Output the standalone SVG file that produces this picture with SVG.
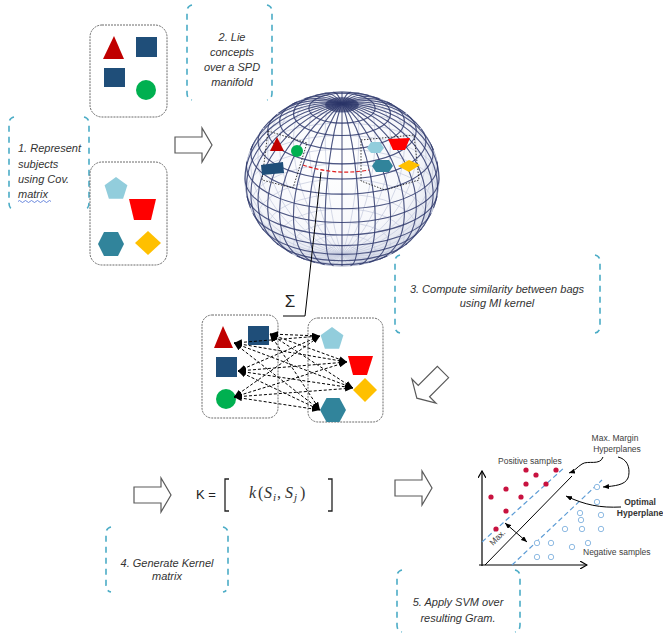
<svg xmlns="http://www.w3.org/2000/svg" width="663" height="637" viewBox="0 0 663 637">
<defs>
<style>
.t{font-family:"Liberation Sans",Arial,sans-serif;font-style:italic;font-size:11px;fill:#333}
.c{text-anchor:middle}
.br{fill:none;stroke:#4bacc6;stroke-width:1.6;stroke-dasharray:6 5}
.box{fill:#fff;stroke:#6b6b6b;stroke-width:1;stroke-dasharray:2 1}
.blk{fill:#fff;stroke:#5a5a5a;stroke-width:1.2}
.bk{fill:none;stroke:#c3c8dc;stroke-width:0.7}
.fr{fill:none;stroke:#2c3669;stroke-width:1.1;stroke-opacity:0.8}
.bk *,.fr *{vector-effect:non-scaling-stroke}
.dl{stroke:#000;stroke-width:1;stroke-dasharray:3 2;fill:none}
.lab{font-family:"Liberation Sans",Arial,sans-serif;font-size:8.5px;fill:#404040}
.bold{font-weight:bold;fill:#333}
.pos{fill:#c8123f}
.neg{fill:#fff;stroke:#8fbbe3;stroke-width:1}
.red{fill:#c00000}.blu{fill:#1f4e79}.grn{fill:#00b050}.lbl{fill:#92cddc}.rd2{fill:#ff0000}.tea{fill:#31849b}.yel{fill:#ffc000}
</style>
<path id="barrow" d="M0,-8 H27 V-17 L37,0 L27,17 V8 H0 Z"/>
<marker id="ah" viewBox="0 0 8 6" refX="8" refY="3" markerWidth="8" markerHeight="6" markerUnits="userSpaceOnUse" orient="auto-start-reverse"><path d="M0,0 L8,3 L0,6 Z" fill="#000"/></marker>
<marker id="sm" viewBox="0 0 6 5" refX="6" refY="2.5" markerWidth="6" markerHeight="5" markerUnits="userSpaceOnUse" orient="auto-start-reverse"><path d="M0,0 L6,2.5 L0,5 Z" fill="#000"/></marker>
<marker id="ax" viewBox="0 0 8 8" refX="7" refY="4" markerWidth="8" markerHeight="8" markerUnits="userSpaceOnUse" orient="auto"><path d="M0,0 L7,4 L0,8" fill="none" stroke="#000" stroke-width="1.2"/></marker>
<radialGradient id="sg" cx="0.45" cy="0.4" r="0.62">
<stop offset="0" stop-color="#ffffff"/><stop offset="0.7" stop-color="#f6f7fb"/><stop offset="1" stop-color="#d9deea"/>
</radialGradient>
</defs>
<rect width="663" height="637" fill="#fff"/>

<!-- Step text boxes -->
<g id="step1">
<path class="br" d="M14,117 Q9,118 9,124 V203 Q9,209 14,210"/>
<path class="br" d="M84,117 Q89,118 89,124 V203 Q89,209 84,210"/>
<text class="t" x="18" y="152">1. Represent</text>
<text class="t" x="18" y="168">subjects</text>
<text class="t" x="18" y="183">using Cov.</text>
<text class="t" x="18" y="198">matrix</text>
<path d="M18,201.5 q1.5,-2 3,0 t3,0 t3,0 t3,0 t3,0 t3,0 t3,0 t3,0 t3,0 t3,0 t3,0" fill="none" stroke="#4a6fd6" stroke-width="0.8"/>
</g>
<g id="step2">
<path class="br" d="M192,5 Q187,6 187,12 V93 Q187,99 192,100"/>
<path class="br" d="M267,5 Q272,6 272,12 V93 Q272,99 267,100"/>
<text class="t c" x="232" y="41">2. Lie</text>
<text class="t c" x="232" y="56">concepts</text>
<text class="t c" x="232" y="71">over a SPD</text>
<text class="t c" x="232" y="86">manifold</text>
</g>
<g id="step3">
<path class="br" d="M400,255 Q395,256 395,262 V326 Q395,332 400,333"/>
<path class="br" d="M595,255 Q600,256 600,262 V326 Q600,332 595,333"/>
<text class="t c" x="497" y="293">3. Compute similarity between bags</text>
<text class="t c" x="497" y="307">using MI kernel</text>
</g>
<g id="step4">
<path class="br" d="M111,527 Q106,528 106,534 V585 Q106,591 111,592"/>
<path class="br" d="M223,527 Q228,528 228,534 V585 Q228,591 223,592"/>
<text class="t c" x="167" y="567">4. Generate Kernel</text>
<text class="t c" x="167" y="580">matrix</text>
</g>
<g id="step5">
<path class="br" d="M402,570 Q397,571 397,577 V625 Q397,631 402,632"/>
<path class="br" d="M515,570 Q520,571 520,577 V625 Q520,631 515,632"/>
<text class="t c" x="458" y="606">5. Apply SVM over</text>
<text class="t c" x="458" y="622">resulting Gram.</text>
</g>

<!-- Concept boxes -->
<g id="bag-top">
<rect class="box" x="90" y="25" width="77" height="92" rx="12"/>
<polygon class="red" points="114,36 124,59 103,59"/>
<rect class="blu" x="136" y="37" width="21" height="20"/>
<rect class="blu" x="104" y="68" width="21" height="19"/>
<circle class="grn" cx="146" cy="90" r="10"/>
</g>
<g id="bag-bottom">
<rect class="box" x="90" y="162" width="77" height="103" rx="12"/>
<polygon class="lbl" points="116,177 127.4,185.3 123.1,198.7 108.9,198.7 104.6,185.3"/>
<polygon class="rd2" points="129,199 156,199 151,220 134,220"/>
<polygon class="tea" points="98,244 104,232 118,232 124,244 118,256 104,256"/>
<polygon class="yel" points="135,243 148,231 161,243 148,255"/>
</g>

<!-- Block arrows -->
<g id="arrows">
<use href="#barrow" class="blk" transform="translate(175,145)"/>
<use href="#barrow" class="blk" transform="translate(443,372) rotate(135)"/>
<use href="#barrow" class="blk" transform="translate(134,495)"/>
<use href="#barrow" class="blk" transform="translate(395,488)"/>
</g>

<!-- Sphere -->
<g id="sphere">
<ellipse cx="342" cy="179" rx="97" ry="87" fill="url(#sg)" stroke="#a9aec0" stroke-width="1"/>
<g transform="translate(342,179) scale(97,87)">
<g class="bk">
<ellipse cx="0" cy="-0.8529" rx="0.1736" ry="0.0868"/>
<ellipse cx="0" cy="-0.8138" rx="0.342" ry="0.171"/>
<ellipse cx="0" cy="-0.75" rx="0.5" ry="0.25"/>
<ellipse cx="0" cy="-0.6634" rx="0.6428" ry="0.3214"/>
<ellipse cx="0" cy="-0.5567" rx="0.766" ry="0.383"/>
<ellipse cx="0" cy="-0.433" rx="0.866" ry="0.433"/>
<ellipse cx="0" cy="-0.2962" rx="0.9397" ry="0.4698"/>
<ellipse cx="0" cy="-0.1504" rx="0.9848" ry="0.4924"/>
<ellipse cx="0" cy="0" rx="1" ry="0.5"/>
<ellipse cx="0" cy="0.1504" rx="0.9848" ry="0.4924"/>
<ellipse cx="0" cy="0.2962" rx="0.9397" ry="0.4698"/>
<ellipse cx="0" cy="0.433" rx="0.866" ry="0.433"/>
<ellipse cx="0" cy="0.5567" rx="0.766" ry="0.383"/>
<ellipse cx="0" cy="0.6634" rx="0.6428" ry="0.3214"/>
<ellipse cx="0" cy="0.75" rx="0.5" ry="0.25"/>
<ellipse cx="0" cy="0.8138" rx="0.342" ry="0.171"/>
<ellipse cx="0" cy="0.8529" rx="0.1736" ry="0.0868"/>
<ellipse rx="0.1504" ry="1" transform="rotate(-5.04)"/>
<ellipse rx="0.2962" ry="1" transform="rotate(-10.31)"/>
<ellipse rx="0.433" ry="1" transform="rotate(-16.1)"/>
<ellipse rx="0.5567" ry="1" transform="rotate(-22.76)"/>
<ellipse rx="0.6634" ry="1" transform="rotate(-30.79)"/>
<ellipse rx="0.75" ry="1" transform="rotate(-40.89)"/>
<ellipse rx="0.8138" ry="1" transform="rotate(-53.94)"/>
<ellipse rx="0.8529" ry="1" transform="rotate(-70.58)"/>
<ellipse rx="0.866" ry="1" transform="rotate(-90)"/>
<ellipse rx="0.8529" ry="1" transform="rotate(-109.42)"/>
<ellipse rx="0.8138" ry="1" transform="rotate(-126.06)"/>
<ellipse rx="0.75" ry="1" transform="rotate(-139.11)"/>
<ellipse rx="0.6634" ry="1" transform="rotate(-149.21)"/>
<ellipse rx="0.5567" ry="1" transform="rotate(-157.24)"/>
<ellipse rx="0.433" ry="1" transform="rotate(-163.9)"/>
<ellipse rx="0.2962" ry="1" transform="rotate(-169.69)"/>
<ellipse rx="0.1504" ry="1" transform="rotate(-174.96)"/>
</g>
<ellipse cx="0" cy="-0.8529" rx="0.1736" ry="0.0868" fill="#2c3669" fill-opacity="0.7"/>
<g class="fr">
<ellipse cx="0" cy="-0.8138" rx="0.342" ry="0.171"/>
<ellipse cx="0" cy="-0.75" rx="0.5" ry="0.25"/>
<path d="M-0.4663,-0.8845 A0.6428,0.3214 0 1 0 0.4663,-0.8845"/>
<path d="M-0.6701,-0.7423 A0.766,0.383 0 1 0 0.6701,-0.7423"/>
<path d="M-0.8165,-0.5774 A0.866,0.433 0 1 0 0.8165,-0.5774"/>
<path d="M-0.9187,-0.395 A0.9397,0.4698 0 1 0 0.9187,-0.395"/>
<path d="M-0.9797,-0.2005 A0.9848,0.4924 0 1 0 0.9797,-0.2005"/>
<path d="M-1,0 A1,0.5 0 0 0 1,0"/>
<path d="M-0.9797,0.2005 A0.9848,0.4924 0 0 0 0.9797,0.2005"/>
<path d="M-0.9187,0.395 A0.9397,0.4698 0 0 0 0.9187,0.395"/>
<path d="M-0.8165,0.5774 A0.866,0.433 0 0 0 0.8165,0.5774"/>
<path d="M-0.6701,0.7423 A0.766,0.383 0 0 0 0.6701,0.7423"/>
<path d="M-0.4663,0.8845 A0.6428,0.3214 0 0 0 0.4663,0.8845"/>
<path d="M0,-1 V1"/>
<path d="M0,-1 A0.1504,1 0 0 1 0,1" transform="rotate(-5.04)"/>
<path d="M0,-1 A0.2962,1 0 0 1 0,1" transform="rotate(-10.31)"/>
<path d="M0,-1 A0.433,1 0 0 1 0,1" transform="rotate(-16.1)"/>
<path d="M0,-1 A0.5567,1 0 0 1 0,1" transform="rotate(-22.76)"/>
<path d="M0,-1 A0.6634,1 0 0 1 0,1" transform="rotate(-30.79)"/>
<path d="M0,-1 A0.75,1 0 0 1 0,1" transform="rotate(-40.89)"/>
<path d="M0,-1 A0.8138,1 0 0 1 0,1" transform="rotate(-53.94)"/>
<path d="M0,-1 A0.8529,1 0 0 1 0,1" transform="rotate(-70.58)"/>
<path d="M0,-1 A0.866,1 0 0 1 0,1" transform="rotate(-90)"/>
<path d="M0,-1 A0.8529,1 0 0 1 0,1" transform="rotate(-109.42)"/>
<path d="M0,-1 A0.8138,1 0 0 1 0,1" transform="rotate(-126.06)"/>
<path d="M0,-1 A0.75,1 0 0 1 0,1" transform="rotate(-139.11)"/>
<path d="M0,-1 A0.6634,1 0 0 1 0,1" transform="rotate(-149.21)"/>
<path d="M0,-1 A0.5567,1 0 0 1 0,1" transform="rotate(-157.24)"/>
<path d="M0,-1 A0.433,1 0 0 1 0,1" transform="rotate(-163.9)"/>
<path d="M0,-1 A0.2962,1 0 0 1 0,1" transform="rotate(-169.69)"/>
<path d="M0,-1 A0.1504,1 0 0 1 0,1" transform="rotate(-174.96)"/>
</g>
</g>
<polygon points="268,131 307,143 293,188 262,180" fill="none" stroke="#222" stroke-width="0.9" stroke-dasharray="1.5 1.5"/>
<polygon points="361,140 414,135 419,180 385,190 361,181" fill="none" stroke="#222" stroke-width="0.9" stroke-dasharray="1.5 1.5"/>
<polygon class="red" points="277,137 284,151 270,151"/>
<circle class="grn" cx="297" cy="151" r="6"/>
<polygon class="blu" points="261,165 283,162 284,173 262,175"/>
<polygon class="lbl" points="367,148 371,142 380,142 384,148 380,153 371,153"/>
<polygon class="rd2" points="388,139 410,138 405,150 393,150"/>
<polygon class="tea" points="372,166 376,160 389,160 393,166 389,172 376,172"/>
<polygon class="yel" points="398,166 409,160 420,165 409,172"/>
<path d="M303,165 Q335,176 369,170" fill="none" stroke="#e02020" stroke-width="1.2" stroke-dasharray="4 2"/>
</g>

<!-- Sum pointer -->
<g id="sum">
<path d="M321,172 L305,316 H283" fill="none" stroke="#000" stroke-width="1"/>
<text x="290" y="307" font-family="Liberation Sans, Arial, sans-serif" font-size="17" fill="#222" text-anchor="middle">Σ</text>
</g>

<!-- Bags comparison -->
<g id="bag-left">
<rect class="box" x="202" y="315" width="76" height="103" rx="10"/>
<polygon class="red" points="223,326 233,348 214,348"/>
<rect class="blu" x="248" y="326" width="21" height="19"/>
<rect class="blu" x="216" y="357" width="21" height="20"/>
<circle class="grn" cx="226" cy="399" r="10"/>
</g>
<g id="bag-right">
<rect class="box" x="308" y="318" width="75" height="104" rx="10"/>
<polygon class="lbl" points="332,327 343.4,335.3 339.1,348.7 324.9,348.7 320.6,335.3"/>
<polygon class="rd2" points="348,356 373,356 367,375 353,375"/>
<polygon class="yel" points="353,390 365,378 377,390 365,402"/>
<polygon class="tea" points="320,410 326.5,398 339.5,398 346,410 339.5,422 326.5,422"/>
</g>
<g id="connectors">
<line class="dl" x1="234" y1="343" x2="320" y2="336" marker-start="url(#ah)" marker-end="url(#ah)"/>
<line class="dl" x1="234" y1="343" x2="347" y2="362" marker-start="url(#ah)" marker-end="url(#ah)"/>
<line class="dl" x1="234" y1="343" x2="353" y2="388" marker-start="url(#ah)" marker-end="url(#ah)"/>
<line class="dl" x1="234" y1="343" x2="320" y2="410" marker-start="url(#ah)" marker-end="url(#ah)"/>
<line class="dl" x1="270" y1="334" x2="320" y2="336" marker-start="url(#ah)" marker-end="url(#ah)"/>
<line class="dl" x1="270" y1="334" x2="347" y2="362" marker-start="url(#ah)" marker-end="url(#ah)"/>
<line class="dl" x1="270" y1="334" x2="353" y2="388" marker-start="url(#ah)" marker-end="url(#ah)"/>
<line class="dl" x1="270" y1="334" x2="320" y2="410" marker-start="url(#ah)" marker-end="url(#ah)"/>
<line class="dl" x1="238" y1="371" x2="320" y2="336" marker-start="url(#ah)" marker-end="url(#ah)"/>
<line class="dl" x1="238" y1="371" x2="347" y2="362" marker-start="url(#ah)" marker-end="url(#ah)"/>
<line class="dl" x1="238" y1="371" x2="353" y2="388" marker-start="url(#ah)" marker-end="url(#ah)"/>
<line class="dl" x1="238" y1="371" x2="320" y2="410" marker-start="url(#ah)" marker-end="url(#ah)"/>
<line class="dl" x1="234" y1="397" x2="320" y2="336" marker-start="url(#ah)" marker-end="url(#ah)"/>
<line class="dl" x1="234" y1="397" x2="347" y2="362" marker-start="url(#ah)" marker-end="url(#ah)"/>
<line class="dl" x1="234" y1="397" x2="353" y2="388" marker-start="url(#ah)" marker-end="url(#ah)"/>
<line class="dl" x1="234" y1="397" x2="320" y2="410" marker-start="url(#ah)" marker-end="url(#ah)"/>
</g>

<!-- Kernel matrix -->
<g id="kernel">
<text x="196" y="499" font-family="Liberation Sans, Arial, sans-serif" font-size="13" fill="#222">K =</text>
<path d="M229,479 H225 V511 H229" fill="none" stroke="#222" stroke-width="1.3"/>
<path d="M328,479 H332 V511 H328" fill="none" stroke="#222" stroke-width="1.3"/>
<text font-family="Liberation Serif, 'DejaVu Serif', serif" font-style="italic" font-size="16" fill="#333" y="498"><tspan x="249">k</tspan><tspan x="258" font-style="normal">(</tspan><tspan x="264">S</tspan><tspan x="273" y="501" font-size="11">i</tspan><tspan x="277" y="498" font-style="normal">,</tspan><tspan x="285">S</tspan><tspan x="294" y="501" font-size="11">j</tspan><tspan x="300" y="498" font-style="normal">)</tspan></text>
</g>

<!-- SVM plot -->
<g id="svm">
<line x1="482" y1="566" x2="482" y2="471" stroke="#000" stroke-width="1.2" marker-end="url(#ax)"/>
<line x1="479" y1="565" x2="587" y2="565" stroke="#000" stroke-width="1.2" marker-end="url(#ax)"/>
<line x1="485" y1="565" x2="572" y2="476" stroke="#000" stroke-width="1"/>
<line x1="482" y1="542" x2="565" y2="467" stroke="#5b9bd5" stroke-width="1.2" stroke-dasharray="5 3"/>
<line x1="512" y1="565" x2="602" y2="480" stroke="#5b9bd5" stroke-width="1.2" stroke-dasharray="5 3"/>
<line x1="505" y1="523" x2="527" y2="542" stroke="#000" stroke-width="1" marker-start="url(#sm)" marker-end="url(#sm)"/>
<text class="lab" transform="translate(493,546) rotate(-45)" font-size="8">Max.</text>
<g>
<circle class="pos" cx="526" cy="470" r="2.6"/><circle class="pos" cx="536" cy="475" r="2.6"/><circle class="pos" cx="556" cy="470" r="2.6"/>
<circle class="pos" cx="526" cy="484" r="2.6"/><circle class="pos" cx="546" cy="484" r="2.6"/><circle class="pos" cx="506" cy="489" r="2.6"/>
<circle class="pos" cx="521" cy="497" r="2.6"/><circle class="pos" cx="491" cy="497" r="2.6"/><circle class="pos" cx="506" cy="511" r="2.6"/>
<circle class="pos" cx="496" cy="529" r="2.6"/>
</g>
<g>
<circle class="neg" cx="597" cy="487" r="2.7"/><circle class="neg" cx="597" cy="502" r="2.7"/><circle class="neg" cx="580" cy="513" r="2.7"/>
<circle class="neg" cx="581" cy="520" r="2.7"/><circle class="neg" cx="601" cy="515" r="2.7"/><circle class="neg" cx="565" cy="529" r="2.7"/>
<circle class="neg" cx="582" cy="529" r="2.7"/><circle class="neg" cx="601" cy="529" r="2.7"/><circle class="neg" cx="588" cy="543" r="2.7"/>
<circle class="neg" cx="572" cy="547" r="2.7"/><circle class="neg" cx="551" cy="543" r="2.7"/><circle class="neg" cx="537" cy="543" r="2.7"/>
<circle class="neg" cx="537" cy="557" r="2.7"/><circle class="neg" cx="551" cy="557" r="2.7"/>
</g>
<text class="lab" x="498" y="464">Positive samples</text>
<text class="lab" x="583" y="555">Negative samples</text>
<text class="lab c" x="615" y="441">Max. Margin</text>
<text class="lab c" x="617" y="452">Hyperplanes</text>
<text class="lab bold c" x="640" y="505">Optimal</text>
<text class="lab bold c" x="640" y="516">Hyperplane</text>
<path d="M603,457 C600,466 588,460 582,464 C577,467 575,471 569,473" fill="none" stroke="#000" stroke-width="1" marker-end="url(#sm)"/>
<path d="M618,457 C630,460 630,472 628,478 C625,485 615,486 603,487" fill="none" stroke="#000" stroke-width="1" marker-end="url(#sm)"/>
<path d="M621,507 C600,508 585,505 566,496" fill="none" stroke="#000" stroke-width="1" marker-end="url(#sm)"/>
</g>
</svg>
